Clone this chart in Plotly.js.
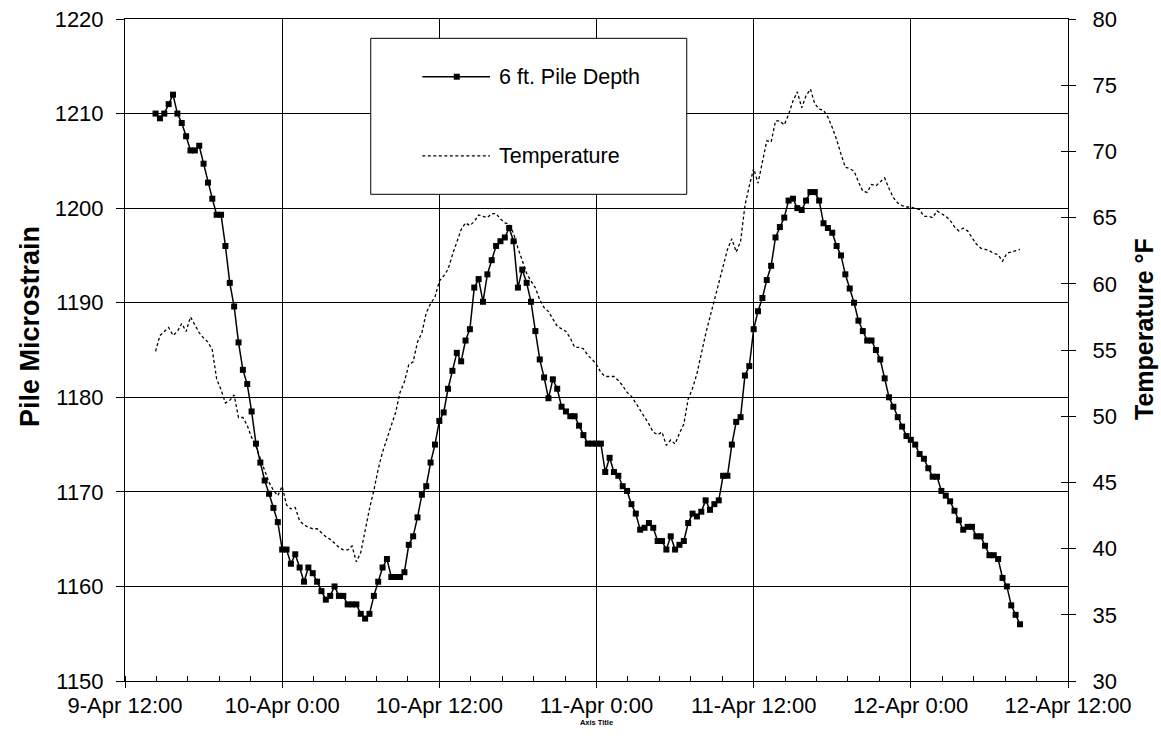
<!DOCTYPE html>
<html>
<head>
<meta charset="utf-8">
<script src="https://cdn.plot.ly/plotly-3.0.1.min.js"></script>
<style>html,body{margin:0;padding:0;background:#fff;}#chart{width:1161px;height:740px;}</style>
</head>
<body>
<div id="chart"></div>
<script>
// Sampling: readings every 20 minutes starting 9-Apr 14:20
const startTime = Date.UTC(2004, 3, 9, 14, 20);
const intervalMinutes = 20;

// 6 ft. Pile Depth (microstrain), left axis
const strain = [
  1210.0, 1209.5, 1210.0, 1211.0, 1212.0, 1210.0, 1209.0, 1207.6, 1206.1, 1206.1,
  1206.6, 1204.7, 1202.7, 1201.0, 1199.3, 1199.3, 1196.0, 1192.1, 1189.6, 1185.8,
  1182.9, 1181.4, 1178.5, 1175.1, 1173.1, 1171.2, 1169.8, 1168.3, 1166.8, 1163.9,
  1163.9, 1162.4, 1163.4, 1162.0, 1160.5, 1162.0, 1161.4, 1160.5, 1159.5, 1158.6,
  1159.0, 1160.0, 1159.0, 1159.0, 1158.1, 1158.1, 1158.1, 1157.1, 1156.6, 1157.1,
  1159.0, 1160.5, 1162.0, 1162.9, 1161.0, 1161.0, 1161.0, 1161.5, 1164.4, 1165.3,
  1167.3, 1169.7, 1170.6, 1173.1, 1175.0, 1177.5, 1178.4, 1180.9, 1182.8, 1184.7,
  1183.8, 1186.0, 1187.2, 1191.6, 1192.5, 1190.1, 1193.0, 1194.5, 1196.0, 1196.5,
  1196.9, 1197.9, 1196.5, 1191.6, 1193.5, 1192.1, 1190.1, 1187.0, 1184.0, 1182.1,
  1179.9, 1181.9, 1180.9, 1179.0, 1178.5, 1178.0, 1178.0, 1177.0, 1176.0, 1175.1,
  1175.1, 1175.1, 1175.1, 1172.1, 1173.6, 1172.1, 1171.7, 1170.6, 1170.1, 1168.7,
  1167.7, 1166.0, 1166.2, 1166.7, 1166.2, 1164.8, 1164.8, 1163.9, 1165.3, 1163.9,
  1164.4, 1164.8, 1166.7, 1167.7, 1167.4, 1167.9, 1169.1, 1168.1, 1168.7, 1169.1,
  1171.7, 1171.7, 1175.0, 1177.4, 1177.9, 1182.3, 1183.3, 1187.2, 1189.1, 1190.5,
  1192.4, 1193.9, 1196.9, 1198.0, 1199.0, 1200.8, 1201.0, 1200.0, 1199.8, 1200.8,
  1201.7, 1201.7, 1200.8, 1198.4, 1197.9, 1197.4, 1196.0, 1195.0, 1193.0, 1191.5,
  1190.0, 1188.1, 1187.0, 1186.0, 1186.0, 1185.0, 1184.0, 1182.0, 1180.0, 1179.0,
  1177.9, 1176.9, 1175.9, 1175.5, 1175.0, 1174.0, 1173.5, 1172.5, 1171.6, 1171.6,
  1170.1, 1169.6, 1169.0, 1168.0, 1167.0, 1166.0, 1166.3, 1166.3, 1165.3, 1165.3,
  1164.3, 1163.3, 1163.3, 1162.9, 1160.9, 1160.0, 1158.0, 1157.0, 1156.0
];

// Temperature (°F), right axis
const temperature = [
  54.9, 56.1, 56.4, 56.7, 56.1, 56.4, 57.0, 56.4, 57.5, 56.9,
  56.3, 55.9, 55.6, 55.0, 52.8, 52.0, 51.0, 51.2, 51.6, 49.9,
  49.9, 49.3, 48.4, 47.7, 46.8, 45.8, 45.0, 44.4, 44.0, 44.7,
  43.3, 43.0, 43.1, 42.1, 41.8, 41.6, 41.5, 41.5, 41.2, 40.9,
  40.7, 40.4, 40.1, 39.9, 39.9, 40.2, 39.0, 39.7, 41.5, 43.0,
  44.4, 46.0, 47.3, 48.3, 49.3, 50.3, 51.8, 52.6, 53.9, 54.1,
  55.6, 56.3, 57.8, 58.5, 59.0, 60.2, 60.6, 61.1, 62.2, 63.1,
  64.1, 64.6, 64.4, 64.7, 65.2, 65.1, 65.0, 65.3, 65.3, 64.9,
  64.6, 64.5, 63.8, 62.7, 61.8, 60.8, 60.2, 59.7, 58.8, 58.2,
  57.9, 57.3, 56.8, 56.6, 56.4, 55.9, 55.2, 55.2, 55.1, 54.6,
  54.3, 53.9, 53.3, 53.0, 53.0, 53.0, 52.7, 52.3, 51.8, 51.5,
  51.0, 50.5, 50.0, 49.4, 48.8, 48.6, 48.8, 47.8, 48.2, 47.9,
  48.7, 49.4, 51.3, 52.1, 53.2, 54.8, 56.2, 57.5, 58.8, 60.2,
  61.4, 62.6, 63.4, 62.4, 63.2, 65.9, 67.4, 68.7, 67.6, 69.1,
  70.8, 70.7, 72.3, 72.3, 72.0, 72.8, 73.8, 74.5, 73.3, 74.2,
  74.7, 73.6, 73.2, 73.1, 72.6, 71.8, 70.9, 69.8, 68.8, 68.7,
  68.5, 67.7, 67.0, 66.9, 67.5, 67.4, 67.7, 68.0, 67.2, 66.5,
  66.1, 65.9, 65.8, 65.8, 65.7, 65.6, 65.1, 65.1, 65.0, 65.5,
  65.3, 65.1, 64.8, 64.3, 64.0, 64.2, 64.0, 63.5, 63.0, 62.7,
  62.6, 62.5, 62.3, 62.2, 61.7, 62.3, 62.4, 62.5, 62.6
];

const seriesNames = ['6 ft. Pile Depth', 'Temperature'];
const axisTitles = {x: 'Axis Title', yLeft: 'Pile Microstrain', yRight: 'Temperature °F'};
const xRange = ['2004-04-09 12:00', '2004-04-12 12:00'];
const leftRange = [1150, 1220];
const rightRange = [30, 80];

function stamp(i) {
  return new Date(startTime + i * intervalMinutes * 60000).toISOString().replace('T', ' ').slice(0, 19);
}
const times = strain.map((_, i) => stamp(i));

const FONT = 'Liberation Sans, Arial, Helvetica, sans-serif';
const BLACK = '#000000';

const traces = [
  {
    x: times, y: temperature, yaxis: 'y2', type: 'scatter', mode: 'lines',
    name: seriesNames[1], showlegend: false,
    line: {color: BLACK, width: 1.3, dash: '3px,2.5px'}
  },
  {
    x: times, y: strain, yaxis: 'y', type: 'scatter', mode: 'lines+markers',
    name: seriesNames[0], showlegend: false,
    line: {color: BLACK, width: 1.5},
    marker: {symbol: 'square', size: 6, color: BLACK}
  },
  { x: [], y: [], yaxis: 'y3', type: 'scatter', mode: 'lines', showlegend: false, hoverinfo: 'skip' }
];

// legend frame & samples (paper coordinates)
const L = {x0: 0.2606, x1: 0.5957, y0: 0.7352, y1: 0.9708,
           sx0: 0.3153, sx1: 0.3871, mx: 0.3518, tx: 0.3948, r1: 0.9128, r2: 0.7931};

const layout = {
  width: 1161, height: 740,
  margin: {l: 125, r: 93, t: 19, b: 59, pad: 0},
  paper_bgcolor: '#ffffff', plot_bgcolor: '#ffffff',
  font: {family: FONT, color: BLACK, size: 22},
  showlegend: false,
  xaxis: {
    type: 'date', range: xRange, tick0: xRange[0], dtick: 12 * 3600 * 1000,
    tickformat: '%-d-%b %-H:%M',
    showgrid: true, gridcolor: BLACK, gridwidth: 1,
    showline: true, linecolor: BLACK, linewidth: 1, mirror: true,
    ticks: 'outside', ticklen: 6, tickcolor: BLACK, tickwidth: 1,
    ticklabelstandoff: -1,
    tickfont: {family: FONT, size: 22, color: BLACK},
    minor: {tick0: xRange[0], dtick: 2.4 * 3600 * 1000, ticks: 'inside', ticklen: 5, tickcolor: BLACK, tickwidth: 1, showgrid: false},
    zeroline: false,
    title: {text: axisTitles.x, font: {family: FONT, size: 7.5, color: BLACK, weight: 'bold'}, standoff: 0}
  },
  yaxis: {
    range: leftRange, tick0: 1150, dtick: 10,
    showgrid: true, gridcolor: BLACK, gridwidth: 1,
    showline: true, linecolor: BLACK, linewidth: 1,
    ticks: 'outside', ticklen: 8, tickcolor: BLACK,
    ticklabelstandoff: 8,
    tickfont: {family: FONT, size: 22, color: BLACK},
    zeroline: false
  },
  yaxis2: {
    range: rightRange, tick0: 30, dtick: 5, overlaying: 'y', side: 'right', anchor: 'x',
    showgrid: false, showline: true, linecolor: BLACK, linewidth: 1,
    ticks: 'outside', ticklen: 7, tickcolor: BLACK,
    ticklabelstandoff: 12,
    tickfont: {family: FONT, size: 22, color: BLACK},
    zeroline: false
  },
  yaxis3: {
    range: rightRange, tick0: 30, dtick: 5, overlaying: 'y', side: 'right', anchor: 'x',
    showgrid: false, showline: false, ticks: 'inside', ticklen: 7, tickcolor: BLACK,
    showticklabels: false, zeroline: false
  },
  shapes: [
    {type: 'rect', xref: 'paper', yref: 'paper', x0: L.x0, x1: L.x1, y0: L.y0, y1: L.y1,
     line: {color: BLACK, width: 1}, fillcolor: '#ffffff', layer: 'above'},
    {type: 'line', xref: 'paper', yref: 'paper', x0: L.sx0, x1: L.sx1, y0: L.r1, y1: L.r1,
     line: {color: BLACK, width: 1.5}, layer: 'above'},
    {type: 'rect', xref: 'paper', yref: 'paper', x0: L.mx - 0.0032, x1: L.mx + 0.0032, y0: L.r1 - 0.0045, y1: L.r1 + 0.0045,
     line: {color: BLACK, width: 0}, fillcolor: BLACK, layer: 'above'},
    {type: 'line', xref: 'paper', yref: 'paper', x0: L.sx0, x1: L.sx1, y0: L.r2, y1: L.r2,
     line: {color: BLACK, width: 1.3, dash: '3px,2.5px'}, layer: 'above'}
  ],
  annotations: [
    {xref: 'paper', yref: 'paper', x: L.tx, y: L.r1, xanchor: 'left', yanchor: 'middle', showarrow: false,
     text: seriesNames[0], font: {family: FONT, size: 21.5, color: BLACK}},
    {xref: 'paper', yref: 'paper', x: L.tx, y: L.r2, xanchor: 'left', yanchor: 'middle', showarrow: false,
     text: seriesNames[1], font: {family: FONT, size: 21.5, color: BLACK}},
    // axis titles (rotated, placed as in the original)
    {xref: 'paper', yref: 'paper', x: -0.1007, y: 0.5347, xanchor: 'center', yanchor: 'middle', showarrow: false,
     textangle: -90, text: axisTitles.yLeft, font: {family: FONT, size: 27, color: BLACK, weight: 'bold'}},
    {xref: 'paper', yref: 'paper', x: 1.0806, y: 0.5317, xanchor: 'center', yanchor: 'middle', showarrow: false,
     textangle: -90, text: axisTitles.yRight, font: {family: FONT, size: 25, color: BLACK, weight: 'bold'}}
  ]
};

Plotly.newPlot('chart', traces, layout, {displayModeBar: false, staticPlot: true});
</script>
</body>
</html>
